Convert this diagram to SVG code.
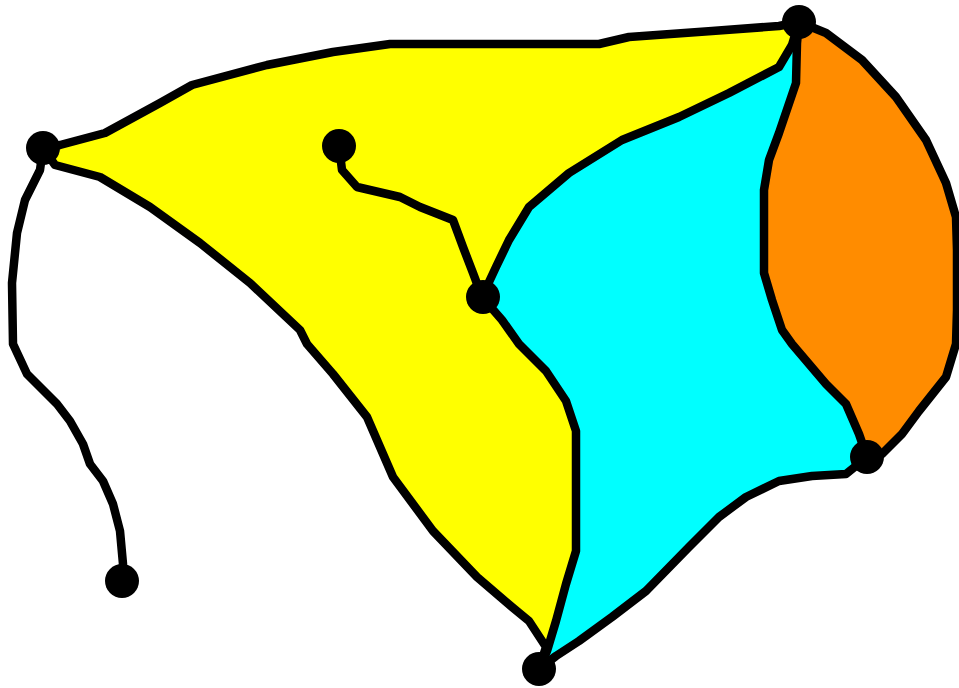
<svg xmlns="http://www.w3.org/2000/svg" width="959" height="688" viewBox="0 0 959 688">
<style>
.face{stroke:none}
.edge{fill:none;stroke:#000;stroke-width:8.5;stroke-linejoin:round;stroke-linecap:round}
.node{fill:#000}
</style>
<rect width="959" height="688" fill="#fff"/>
<g id="faces">
<path class="face" fill="#ffff00" d="M43,148 L60,145 L105,133 L160,103 L192,85 L267,65 L333,52 L390,44 L599,44 L629,37 L712,31 L779,26 L799,22 L792,45 L779,67 L729,93 L679,117 L622,140 L569,173 L529,207 L509,240 L496,267 L482,297 L502,320 L519,344 L546,371 L566,401 L576,431 L576,551 L566,584 L556,621 L547,651 L539,669 L546,647 L529,621 L512,607 L477,577 L433,531 L393,477 L367,417 L333,374 L307,344 L300,330 L250,283 L200,243 L150,207 L100,177 L55,165 Z"/>
<path class="face" fill="#00ffff" d="M799,22 L792,45 L779,67 L729,93 L679,117 L622,140 L569,173 L529,207 L509,240 L496,267 L482,297 L502,320 L519,344 L546,371 L566,401 L576,431 L576,551 L566,584 L556,621 L547,651 L539,669 L556,656 L579,641 L612,617 L646,591 L689,547 L719,517 L746,497 L779,481 L812,476 L846,474 L867,457 L859,434 L846,404 L826,384 L792,344 L782,330 L772,300 L764,273 L764,190 L769,160 L779,133 L796,83 L797,43 Z"/>
<path class="face" fill="#ff8c00" d="M799,22 L797,43 L796,83 L779,133 L769,160 L764,190 L764,273 L772,300 L782,330 L792,344 L826,384 L846,404 L859,434 L867,457 L882,454 L902,434 L919,411 L946,377 L956,344 L957,310 L957,250 L956,217 L946,183 L926,140 L896,97 L862,60 L826,33 Z"/>
</g>
<g id="connectors">
<path class="edge" d="M43,148 L60,145 L105,133 L160,103 L192,85 L267,65 L333,52 L390,44 L599,44 L629,37 L712,31 L779,26 L799,22"/>
<path class="edge" d="M799,22 L792,45 L779,67 L729,93 L679,117 L622,140 L569,173 L529,207 L509,240 L496,267 L482,297"/>
<path class="edge" d="M799,22 L797,43 L796,83 L779,133 L769,160 L764,190 L764,273 L772,300 L782,330 L792,344 L826,384 L846,404 L859,434 L867,457"/>
<path class="edge" d="M799,22 L826,33 L862,60 L896,97 L926,140 L946,183 L956,217 L957,250 L957,310 L956,344 L946,377 L919,411 L902,434 L882,454 L867,457"/>
<path class="edge" d="M867,457 L846,474 L812,476 L779,481 L746,497 L719,517 L689,547 L646,591 L612,617 L579,641 L556,656 L539,669"/>
<path class="edge" d="M482,297 L502,320 L519,344 L546,371 L566,401 L576,431 L576,551 L566,584 L556,621 L547,651 L539,669"/>
<path class="edge" d="M43,148 L55,165 L100,177 L150,207 L200,243 L250,283 L300,330 L307,344 L333,374 L367,417 L393,477 L433,531 L477,577 L512,607 L529,621 L546,647 L539,669"/>
<path class="edge" d="M43,148 L40,170 L25,200 L17,233 L12,283 L13,344 L27,374 L57,404 L70,421 L83,444 L90,464 L103,481 L113,504 L120,531 L123,564 L122,582"/>
<path class="edge" d="M339,146 L342,170 L357,187 L400,197 L420,207 L453,220 L463,247 L473,273 L482,297"/>
</g>
<g id="node-a"><circle class="node" cx="43" cy="148" r="17"/></g>
<g id="node-b"><circle class="node" cx="799" cy="22" r="17"/></g>
<g id="node-c"><circle class="node" cx="339" cy="146" r="17"/></g>
<g id="node-d"><circle class="node" cx="483" cy="297" r="17"/></g>
<g id="node-e"><circle class="node" cx="867" cy="457" r="17"/></g>
<g id="node-f"><circle class="node" cx="539" cy="669" r="17"/></g>
<g id="node-g"><circle class="node" cx="122" cy="581" r="17"/></g>
</svg>
